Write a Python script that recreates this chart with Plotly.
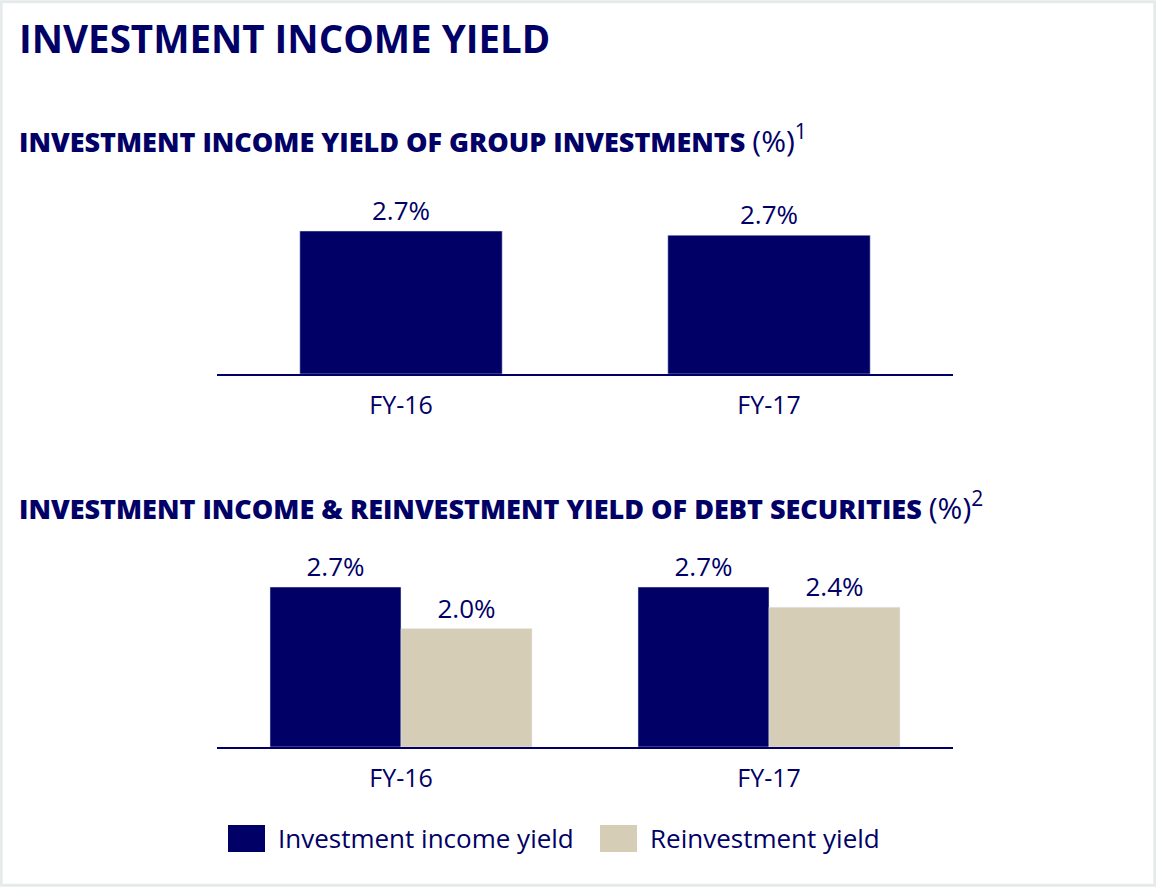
import plotly.graph_objects as go

# data
years = ["FY-16", "FY-17"]
group_yield = [2.74, 2.66]
income_yield = [2.7, 2.7]
reinvest_yield = [2.0, 2.36]

NAVY = "#000066"
BEIGE = "#d5cdb5"
FONT = "Open Sans"
W, H = 1156, 887


def px_x(x):
    return x / W


def px_y(y):
    return 1 - y / H


label_font = dict(size=26, color=NAVY, family=FONT)

fig = go.Figure()

# top chart: group investments
fig.add_trace(go.Bar(
    x=years, y=group_yield, xaxis="x", yaxis="y",
    marker_color=NAVY, width=0.55,
    texttemplate="%{y:.1f}%", textposition="outside", textfont=label_font,
    cliponaxis=False, showlegend=False, hoverinfo="skip",
))

# bottom chart: debt securities
fig.add_trace(go.Bar(
    x=years, y=income_yield, xaxis="x2", yaxis="y2",
    name="Investment income yield", marker_color=NAVY,
    texttemplate="%{y:.1f}%", textposition="outside", textfont=label_font,
    cliponaxis=False, showlegend=False, hoverinfo="skip",
))
fig.add_trace(go.Bar(
    x=years, y=reinvest_yield, xaxis="x2", yaxis="y2",
    name="Reinvestment yield", marker_color=BEIGE,
    texttemplate="%{y:.1f}%", textposition="outside", textfont=label_font,
    cliponaxis=False, showlegend=False, hoverinfo="skip",
))

xdom = [px_x(217), px_x(953)]
xax = dict(
    domain=xdom, range=[-0.5, 1.5], showgrid=False, zeroline=False,
    showline=True, linecolor=NAVY, linewidth=2, ticks="",
    tickfont=dict(size=25, color=NAVY, family=FONT), ticklabelstandoff=8,
    fixedrange=True,
)
yax = dict(range=[0, 3.2], visible=False, fixedrange=True)

fig.update_layout(
    width=W, height=H,
    margin=dict(l=0, r=0, t=0, b=0),
    paper_bgcolor="white", plot_bgcolor="white",
    barmode="group", bargap=0.288, bargroupgap=0,
    font=dict(family=FONT, color=NAVY),
    xaxis=dict(xax, anchor="y"),
    yaxis=dict(yax, domain=[px_y(374), px_y(207)], anchor="x"),
    xaxis2=dict(xax, anchor="y2"),
    yaxis2=dict(yax, domain=[px_y(747), px_y(557.4)], anchor="x2"),
)

# titles
fig.add_annotation(
    text="<b>INVESTMENT INCOME YIELD</b>", x=px_x(17), y=px_y(38),
    xref="paper", yref="paper", xanchor="left", yanchor="middle",
    showarrow=False, font=dict(size=38.5, color=NAVY, family=FONT),
)
sub_font = dict(size=27, color=NAVY, family=FONT)
subtitles = [
    ("INVESTMENT INCOME YIELD OF GROUP INVESTMENTS", "1", 139),
    ("INVESTMENT INCOME &amp; REINVESTMENT YIELD OF DEBT SECURITIES", "2", 506),
]
for head, note, yc in subtitles:
    fig.add_annotation(
        text=(f"<span style='font-weight:800'>{head}</span> "
              f"<span style='font-size:30px'>(%)<sup>{note}</sup></span>"),
        x=px_x(17), y=px_y(yc),
        xref="paper", yref="paper", xanchor="left", yanchor="middle",
        showarrow=False, font=sub_font,
    )

# legend drawn by hand (large swatches)
legend_items = [("Investment income yield", NAVY, 228, 276),
                ("Reinvestment yield", BEIGE, 600, 648)]
for label, color, sx, tx in legend_items:
    fig.add_shape(type="rect", xref="paper", yref="paper",
                  x0=px_x(sx), x1=px_x(sx + 37), y0=px_y(852), y1=px_y(825),
                  fillcolor=color, line_width=0)
    fig.add_annotation(
        text=label, x=px_x(tx), y=px_y(838),
        xref="paper", yref="paper", xanchor="left", yanchor="middle",
        showarrow=False, font=dict(size=26, color=NAVY, family=FONT),
    )

# faint frame
fig.add_shape(type="rect", xref="paper", yref="paper",
              x0=0.001, x1=0.999, y0=0.002, y1=0.998,
              line=dict(color="#e6eaea", width=3), fillcolor="rgba(0,0,0,0)")

fig.write_html("out.html", config={"displayModeBar": False},
               post_script="document.body.style.margin='0';")
